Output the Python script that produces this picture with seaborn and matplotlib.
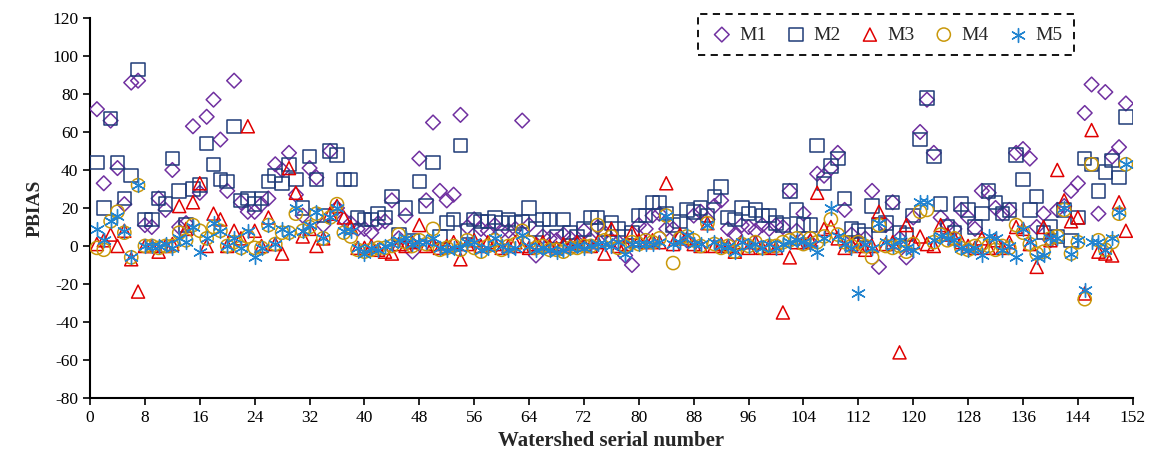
import numpy as np
import pandas as pd
import matplotlib
matplotlib.use("Agg")
import matplotlib.pyplot as plt
import seaborn as sns

# ---------------- data ----------------
watershed = list(range(1, 152))

m1 = [72, 33, 66, 41, 22, 86, 87, 11, 10, 25, 19, 40, 10, 12, 63, 28, 68, 77, 56, 29,
      87, 23, 18, 18, 22, 25, 43, 40, 49, 27, 16, 41, 36, 11, 50, 20, 14, 12, 9, 9,
      7, 12, 13, 24, 4, 16, -3, 46, 24, 65, 29, 24, 27, 69, 10, 14, 9, 8, 11, 8,
      8, 9, 66, 11, -5, 5, 4, 3, 6, 4, 2, 8, 3, 10, 7, 3, 2, -5, -10, 11,
      9, 16, 17, 9, 9, 4, 3, 16, 18, 14, 21, 24, 9, 6, 11, 10, 8, 11, 9, 11,
      10, 29, 8, 17, 2, 38, 37, 41, 49, 19, 6, 3, 4, 29, -11, 11, 23, 4, -6, 15,
      60, 77, 49, 15, 11, 9, 19, 15, 9, 29, 28, 20, 17, 19, 49, 51, 46, 10, 17, 3,
      19, 21, 29, 33, 70, 85, 17, 81, 47, 52, 75]
m2 = [44, 20, 67, 44, 25, 37, 93, 14, 14, 25, 22, 46, 29, 11, 30, 32, 54, 43, 35, 34,
      63, 24, 25, 22, 25, 34, 37, 33, 43, 35, 20, 47, 35, 16, 50, 48, 35, 35, 15, 14,
      14, 17, 15, 26, 6, 20, 3, 34, 21, 44, 5, 12, 14, 53, 8, 14, 13, 13, 15, 12,
      14, 12, 13, 20, 9, 14, 14, 5, 14, 7, 5, 9, 15, 15, 9, 12, 9, 5, 7, 16,
      16, 23, 23, 17, 11, 13, 19, 18, 20, 16, 26, 31, 15, 14, 20, 17, 19, 16, 16, 12,
      11, 29, 19, 11, 11, 53, 33, 42, 46, 25, 9, 8, 6, 21, 11, 12, 23, 7, 6, 16,
      56, 78, 47, 22, 10, 7, 22, 19, 10, 17, 29, 23, 17, 19, 48, 35, 19, 26, 7, 10,
      5, 19, 3, 15, 46, 43, 29, 39, 45, 36, 68]
m3 = [1, 3, 6, 0, 8, -7, -24, 0, 0, -3, 0, 1, 21, 9, 23, 33, 0, 17, 14, 0,
      8, 4, 63, 8, 0, 15, 1, -4, 41, 28, 5, 9, 0, 4, 17, 21, 15, 10, -1, -1,
      0, -2, -3, -4, 1, 0, 2, 11, 0, 1, -1, 0, 2, -7, 1, 3, 0, 2, 1, -1,
      0, 2, 0, -1, 1, 2, 0, -1, 1, 0, 2, 1, 0, 2, -4, 9, 0, 1, 7, 3,
      2, 3, 2, 33, 1, 6, 4, 1, 0, 12, 0, 1, 0, -3, 2, -1, 2, -1, 0, -1,
      -35, -6, 2, 2, 3, 28, 9, 10, 4, -1, 1, 0, -2, 0, 18, 1, 2, -56, 11, 2,
      5, 1, 0, 11, 6, 4, 2, 0, -1, 4, -1, 3, -1, 2, 10, 9, 1, -11, 10, 3,
      40, 24, 13, 15, -25, 61, -3, -4, -5, 23, 8]
m4 = [-1, -2, 13, 18, 7, -6, 32, 0, 0, -1, 0, 0, 7, 3, 11, 8, 4, 10, 8, 0,
      2, -1, 5, -1, -1, 11, 1, 7, 7, 17, 8, 10, 17, 4, 15, 22, 7, 5, -2, -3,
      -2, -1, -1, 0, 6, 2, 0, 3, 1, 9, -2, -1, 0, -2, 3, -1, -3, 0, 3, -2,
      0, 1, 8, 2, -1, 0, -2, -2, -3, -1, -1, 0, 0, 11, 3, 5, -1, 0, 2, 1,
      3, 2, 4, 16, -9, 4, 5, 3, 0, 12, 1, -1, 0, -3, 1, 0, 2, -1, 0, 0,
      2, 3, 4, 1, 4, 2, 5, 14, 6, 2, 0, 2, 0, -6, 11, 0, -1, 0, -3, 1,
      18, 19, 2, 6, 3, 4, -1, -2, 0, 1, 0, -2, 0, -1, 11, 7, 1, -4, -3, 4,
      5, 19, -4, 2, -28, 43, 3, -2, 2, 17, 43]
m5 = [9, 3, 13, 16, 8, -6, 32, 0, 0, 0, 1, -1, 4, 2, 10, -3, 4, 12, 8, 0,
      4, -1, 8, -6, -1, 11, 1, 9, 7, 20, 8, 11, 18, 4, 15, 20, 8, 8, -1, -4,
      -1, -2, 0, 1, 3, 4, 1, 2, 2, 4, -1, -2, -1, -1, 2, 2, -2, -1, 4, 0,
      -2, -1, 6, 0, -2, -1, -2, -3, -2, -1, 0, -1, 0, 1, 1, 0, 2, -4, 1, 1,
      1, 1, 2, 16, 1, 2, 6, 1, 1, 11, 2, 0, 0, -3, 2, 0, 1, -1, 1, -1,
      1, 2, 3, 2, 1, -3, 4, 20, 5, 1, -1, -25, 1, -1, 12, 2, 0, 3, -1, -2,
      23, 23, 3, 5, 4, 3, -1, -2, -1, -5, 5, 4, -2, 0, -6, 9, 2, -6, -5, 4,
      4, 20, -4, 3, -23, 2, 2, -2, 4, 18, 43]

series_names = ["M1", "M2", "M3", "M4", "M5"]
x_ticks = list(range(0, 153, 8))
y_ticks = list(range(-80, 121, 20))

colors = {"M1": "#7030A0", "M2": "#1F3C78", "M3": "#E00000", "M4": "#C9980A", "M5": "#2184D0"}
markers = {"M1": "D", "M2": "s", "M3": "^", "M4": "o", "M5": (6, 2, 0)}
sizes = {"M1": 56, "M2": 95, "M3": 88, "M4": 90, "M5": 100}

df = pd.DataFrame({
    "Watershed": watershed * 5,
    "PBIAS": m1 + m2 + m3 + m4 + m5,
    "Model": sum([[n] * len(watershed) for n in series_names], []),
})

# ---------------- style ----------------
sns.set_style("white")
plt.rcParams["font.family"] = ["Liberation Serif", "DejaVu Serif"]
plt.rcParams["axes.unicode_minus"] = False

fig = plt.figure(figsize=(11.5, 4.67), dpi=100)
ax = fig.add_axes([0.0783, 0.1478, 0.9067, 0.8137])

for name in series_names:
    sub = df[df["Model"] == name]
    if name == "M5":
        sns.scatterplot(data=sub, x="Watershed", y="PBIAS", ax=ax,
                        marker=markers[name], s=sizes[name],
                        color=colors[name], linewidth=1.0, label=name, zorder=3)
    else:
        sns.scatterplot(data=sub, x="Watershed", y="PBIAS", ax=ax,
                        marker=markers[name], s=sizes[name],
                        facecolor="none", edgecolor=colors[name],
                        linewidth=1.1, label=name, zorder=3)

ax.set_xlim(0, 152)
ax.set_ylim(-80, 120)
ax.set_xticks(x_ticks)
ax.set_yticks(y_ticks)
ax.tick_params(axis="both", which="major", direction="out", length=5, width=1.2,
               labelsize=12.5, colors="black", left=True, bottom=True)
for side in ["top", "right"]:
    ax.spines[side].set_visible(False)
for side in ["left", "bottom"]:
    ax.spines[side].set_color("black")
    ax.spines[side].set_linewidth(1.5)

ax.set_xlabel("Watershed serial number", fontsize=15, fontweight="bold", labelpad=4)
ax.set_ylabel("PBIAS", fontsize=14, fontweight="bold", labelpad=6)

leg = ax.legend(loc="upper right", bbox_to_anchor=(0.953, 1.035), ncol=5,
                fontsize=14, frameon=True, fancybox=False, handletextpad=0.3,
                columnspacing=0.9, borderpad=0.6, handlelength=1.2)
frame = leg.get_frame()
frame.set_edgecolor("black")
frame.set_linestyle((0, (4, 3)))
frame.set_linewidth(1.3)
frame.set_facecolor("white")
frame.set_alpha(1)

fig.savefig("out.png", dpi=100)
